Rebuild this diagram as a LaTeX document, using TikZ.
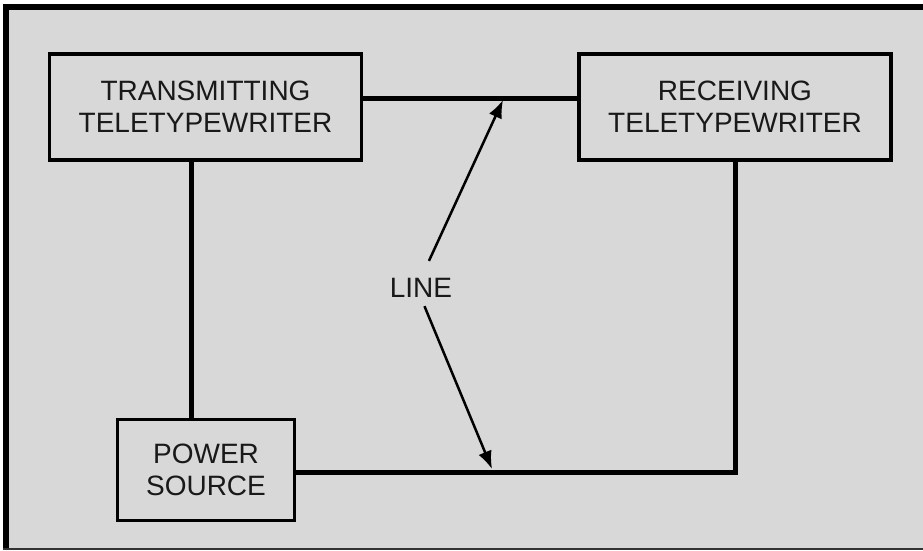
\documentclass[tikz,border=0pt]{standalone}
\usepackage{fontspec}
\setmainfont{Liberation Sans}
\usetikzlibrary{arrows.meta}
\definecolor{panelgray}{RGB}{216,216,216}
\begin{document}
\begin{tikzpicture}[x=1pt, y=-1pt, >={Latex[length=18pt,width=14pt]},
    box/.style={draw, line width=3.5pt, minimum width=#1, minimum height=106pt, align=center,
        inner sep=0pt, font=\fontsize{28}{32}\selectfont, text=black!90},
    wire/.style={line width=5pt},
    pointer/.style={->, line width=2.5pt}]
    \useasboundingbox (0,0) rectangle (923,550);
    % 背景与边框
    \fill[panelgray] (3,4) rectangle (923,550);
    \draw[line width=6pt] (6,550) -- (6,7) -- (923,7);
    \draw[line width=2pt, black!80] (3,548.5) -- (923,548.5);

    % 方框
    \node[box=312pt] (trans) at (205.5,107) {TRANSMITTING\\TELETYPEWRITER};
    \node[box=312pt] (recv) at (735,107) {RECEIVING\\TELETYPEWRITER};
    \node[box=177pt, minimum height=101pt] (power) at (206,470) {POWER\\SOURCE};

    % 连线
    \draw[wire] ([yshift=9pt]trans.east) -- ([yshift=9pt]recv.west);
    \draw[wire] ([xshift=-14pt]trans.south) -- ([xshift=-14pt]trans.south |- power.north);
    \draw[wire] ([yshift=-2pt]power.east) -- ([yshift=-2pt]power.east -| recv.south) -- (recv.south);

    % 标注
    \node[inner sep=0pt, font=\fontsize{28}{32}\selectfont, text=black!90] (lbl) at (421,288) {LINE};
    \coordinate (tipup) at (503,100);
    \coordinate (tipdown) at (492,469);
    \draw[pointer, shorten <=19pt] (lbl.north) -- (tipup);
    \draw[pointer, shorten <=9pt] (lbl.south) -- (tipdown);
\end{tikzpicture}
\end{document}
